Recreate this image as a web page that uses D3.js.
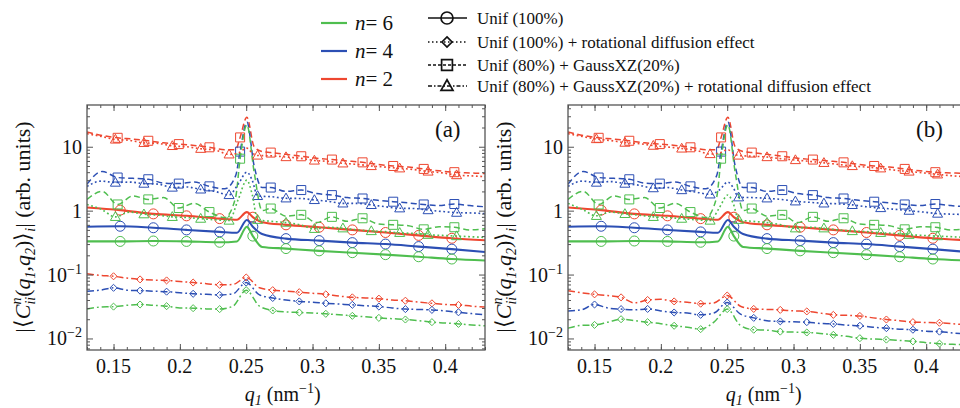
<!DOCTYPE html>
<html>
<head>
<meta charset="utf-8">
<script src="https://cdn.jsdelivr.net/npm/d3@7"></script>
<style>
  body { margin: 0; background: #fff; }
</style>
</head>
<body>
<svg id="chart" width="960" height="408" font-family="'Liberation Serif', 'Times New Roman', Times, serif"></svg>
<script>
// ---- data ----
// Unif (100%) : solid lines, circle markers (shared by both panels)
const qUnif = [0.13, 0.155, 0.18, 0.205, 0.23, 0.243, 0.2505, 0.255, 0.262, 0.28, 0.305, 0.33, 0.355, 0.38, 0.405, 0.43]
const markUnif = [0.155, 0.18, 0.205, 0.23, 0.255, 0.28, 0.305, 0.33, 0.355, 0.38, 0.405]
const unifN2 = [1.12, 1.02, 0.89, 0.83, 0.75, 0.72, 0.95, 0.79, 0.66, 0.60, 0.55, 0.50, 0.455, 0.41, 0.37, 0.345]
const unifN4 = [0.56, 0.57, 0.54, 0.50, 0.465, 0.45, 0.715, 0.56, 0.43, 0.365, 0.34, 0.316, 0.30, 0.274, 0.25, 0.226]
const unifN6 = [0.33, 0.33, 0.335, 0.33, 0.32, 0.33, 0.56, 0.40, 0.27, 0.255, 0.235, 0.22, 0.205, 0.19, 0.175, 0.166]

// Unif (80%) + GaussXZ(20%) : dashed lines, square markers (shared)
const qGauss = [0.13, 0.1415, 0.1531, 0.1646, 0.1762, 0.1877, 0.1992, 0.2108, 0.2223, 0.2338, 0.242, 0.2454, 0.2505, 0.256, 0.262,
  0.2685, 0.28, 0.2915, 0.3031, 0.3146, 0.3262, 0.3377, 0.3492, 0.3608, 0.3723, 0.3838, 0.3954, 0.4069, 0.4185, 0.43]
const markGauss = [0.1531, 0.1762, 0.1992, 0.2223, 0.2454, 0.2685, 0.2915, 0.3146, 0.3377, 0.3608, 0.3838, 0.4069]
const gaussN2 = [17, 15, 13.8, 13.2, 12.4, 11.5, 11.0, 10.5, 9.8, 9.0, 9.0, 14, 29, 10, 8.4,
  8.1, 7.6, 7.1, 6.6, 6.3, 6.0, 5.7, 5.3, 5.0, 4.8, 4.5, 4.2, 4.0, 3.9, 3.8]
const gaussN4 = [2.6, 4.1, 3.3, 3.2, 3.1, 2.7, 2.65, 2.8, 2.4, 2.2, 3.5, 8.4, 24.5, 5, 2.3,
  2.3, 2.0, 2.1, 1.85, 1.75, 1.6, 1.55, 1.45, 1.38, 1.32, 1.25, 1.2, 1.27, 1.2, 1.15]
const gaussN6 = [1.5, 2.0, 1.25, 1.7, 1.5, 1.6, 1.1, 1.3, 0.95, 0.78, 1.6, 6.5, 22, 4, 1.0,
  1.08, 0.82, 0.86, 0.65, 0.8, 0.68, 0.76, 0.62, 0.6, 0.58, 0.51, 0.56, 0.55, 0.5, 0.52]

// Unif (80%) + GaussXZ(20%) + rotational diffusion : dotted lines, triangle markers
const qGaussRot = [0.13, 0.1407, 0.1514, 0.1621, 0.1729, 0.1836, 0.1943, 0.205, 0.2157, 0.2264, 0.2371, 0.244, 0.2505, 0.2545, 0.2586,
  0.2693, 0.28, 0.2907, 0.3014, 0.3121, 0.3229, 0.3336, 0.3443, 0.355, 0.3657, 0.3764, 0.3871, 0.3979, 0.4086, 0.42, 0.43]
const markGaussRot = [0.1514, 0.1729, 0.1943, 0.2157, 0.2371, 0.2586, 0.28, 0.3014, 0.3229, 0.3443, 0.3657, 0.3871, 0.4086]
const gaussRotA_N2 = [16, 14.5, 13, 12.6, 11.5, 11.3, 10.3, 10, 9.3, 8.9, 7.6, 8.0, 9.5, 8.0, 7.3,
  7.2, 6.9, 6.6, 6.1, 5.9, 5.5, 5.3, 5.0, 4.8, 4.6, 4.4, 4.1, 3.9, 3.6, 3.5, 3.4]
const gaussRotA_N4 = [2.4, 2.9, 2.75, 2.8, 2.65, 2.6, 2.3, 2.35, 2.15, 2.0, 1.76, 2.6, 4.0, 3.0, 1.7,
  1.65, 1.56, 1.55, 1.47, 1.4, 1.3, 1.3, 1.23, 1.15, 1.09, 1.08, 1.02, 0.97, 0.93, 0.92, 0.9]
const gaussRotA_N6 = [1.25, 1.05, 0.80, 0.95, 0.88, 0.85, 0.8, 0.78, 0.75, 0.72, 0.70, 1.5, 3.0, 1.8, 0.72,
  0.68, 0.65, 0.6, 0.52, 0.55, 0.53, 0.5, 0.48, 0.47, 0.45, 0.44, 0.42, 0.41, 0.4, 0.39, 0.38]
const gaussRotB_N2 = [16, 14.5, 13.2, 12.5, 11.6, 11.2, 10.4, 9.9, 9.4, 8.8, 7.7, 8.0, 9.0, 7.9, 7.3,
  7.1, 6.9, 6.5, 6.2, 5.9, 5.6, 5.3, 5.0, 4.8, 4.6, 4.3, 4.1, 3.9, 3.7, 3.5, 3.4]
const gaussRotB_N4 = [2.4, 2.9, 2.75, 2.85, 2.65, 2.5, 2.25, 2.3, 2.1, 1.95, 1.8, 2.1, 2.8, 2.3, 1.62,
  1.6, 1.56, 1.5, 1.4, 1.35, 1.3, 1.28, 1.23, 1.15, 1.1, 1.05, 1.0, 0.95, 0.9, 0.88, 0.87]
const gaussRotB_N6 = [1.3, 1.05, 0.83, 0.95, 0.89, 0.85, 0.8, 0.78, 0.75, 0.72, 0.7, 1.1, 1.76, 1.3, 0.72,
  0.68, 0.65, 0.6, 0.53, 0.55, 0.53, 0.5, 0.48, 0.47, 0.45, 0.44, 0.42, 0.41, 0.4, 0.39, 0.38]

// Unif (100%) + rotational diffusion : dash-dot lines, diamond markers
const qUnifRot = [0.13, 0.14, 0.15, 0.16, 0.17, 0.18, 0.19, 0.20, 0.21, 0.22, 0.23, 0.24, 0.25, 0.26, 0.27, 0.28,
  0.29, 0.30, 0.31, 0.32, 0.33, 0.34, 0.35, 0.36, 0.37, 0.38, 0.39, 0.40, 0.41, 0.42, 0.43]
const markUnifRot = [0.15, 0.17, 0.19, 0.21, 0.23, 0.25, 0.27, 0.29, 0.31, 0.33, 0.35, 0.37, 0.39, 0.41]
const unifRotA_N2 = [0.103, 0.097, 0.094, 0.088, 0.084, 0.082, 0.081, 0.078, 0.075, 0.072, 0.069, 0.07, 0.09, 0.062, 0.057, 0.055,
  0.053, 0.051, 0.049, 0.046, 0.044, 0.043, 0.042, 0.040, 0.039, 0.037, 0.0355, 0.034, 0.0335, 0.032, 0.031]
const unifRotA_N4 = [0.055, 0.057, 0.062, 0.057, 0.056, 0.055, 0.054, 0.052, 0.050, 0.049, 0.048, 0.05, 0.075, 0.048, 0.043, 0.040,
  0.038, 0.037, 0.0355, 0.0345, 0.0336, 0.0325, 0.0316, 0.030, 0.0288, 0.0284, 0.028, 0.027, 0.0257, 0.0245, 0.0234]
const unifRotA_N6 = [0.029, 0.031, 0.0315, 0.033, 0.034, 0.033, 0.032, 0.030, 0.0298, 0.029, 0.0288, 0.032, 0.057, 0.032, 0.0274, 0.026,
  0.0255, 0.025, 0.0243, 0.0235, 0.0226, 0.0218, 0.021, 0.0204, 0.0198, 0.019, 0.018, 0.0175, 0.0169, 0.0163, 0.0158]
const unifRotB_N2 = [0.056, 0.052, 0.049, 0.047, 0.044, 0.036, 0.040, 0.041, 0.038, 0.037, 0.035, 0.036, 0.047, 0.032, 0.029, 0.0285,
  0.028, 0.027, 0.0265, 0.025, 0.0234, 0.023, 0.0225, 0.021, 0.0198, 0.019, 0.018, 0.0178, 0.0176, 0.017, 0.0163]
const unifRotB_N4 = [0.027, 0.028, 0.034, 0.030, 0.0288, 0.028, 0.029, 0.027, 0.0255, 0.025, 0.0234, 0.025, 0.0365, 0.024, 0.021, 0.019,
  0.0185, 0.0182, 0.018, 0.0172, 0.0169, 0.0162, 0.0158, 0.015, 0.0145, 0.014, 0.0137, 0.013, 0.0128, 0.0122, 0.0118]
const unifRotB_N6 = [0.0145, 0.016, 0.0163, 0.018, 0.020, 0.019, 0.018, 0.017, 0.0158, 0.015, 0.014, 0.018, 0.0288, 0.016, 0.0137, 0.0135,
  0.0128, 0.0126, 0.0124, 0.012, 0.0114, 0.0108, 0.0101, 0.0098, 0.0096, 0.0093, 0.009, 0.0086, 0.0083, 0.0081, 0.008]

// axis ticks
const xTicks = [0.15, 0.2, 0.25, 0.3, 0.35, 0.4]
const yTicks = [0.01, 0.1, 1, 10]
const yTickLabels = [['10', '\u22122'], ['10', '\u22121'], ['1', null], ['10', null]]

const legendN = [{ n: '6', color: 'green' }, { n: '4', color: 'blue' }, { n: '2', color: 'red' }]
const legendStyles = [
  { label: 'Unif (100%)', style: 'solid', shape: 'circle' },
  { label: 'Unif (100%) + rotational diffusion effect', style: 'dotted', shape: 'diamond' },
  { label: 'Unif (80%) + GaussXZ(20%)', style: 'dashed', shape: 'square' },
  { label: 'Unif (80%) + GaussXZ(20%) + rotational diffusion effect', style: 'dashdot', shape: 'triangle' }
]

// ---- styling ----
const FONT = "'Liberation Serif', 'Times New Roman', Times, serif"
const COLORS = { red: '#ee4730', blue: '#2c4fb4', green: '#4fbe4f' }
const DASH = { solid: null, dashed: '6,3.5', dotted: '1.8,2.6', dashdot: '7,3,1.8,3' }
const SHAPES = {
  square: 'M-4.5,-4.5H4.5V4.5H-4.5Z',
  diamond: 'M0,-4.2L4.2,0L0,4.2L-4.2,0Z',
  triangle: 'M0,-5.2L5,3.6H-5Z'
}

const svg = d3.select('#chart')
const plotTop = 105, plotBottom = 350
const y = d3.scaleLog().domain([0.0066, 45]).range([plotBottom, plotTop])

const panels = [
  { left: 87, right: 485, tag: '(a)', rotGauss: [gaussRotA_N2, gaussRotA_N4, gaussRotA_N6], rotUnif: [unifRotA_N2, unifRotA_N4, unifRotA_N6] },
  { left: 568, right: 966, tag: '(b)', rotGauss: [gaussRotB_N2, gaussRotB_N4, gaussRotB_N6], rotUnif: [unifRotB_N2, unifRotB_N4, unifRotB_N6] }
]

function markerShape(g, shape, cx, cy, color, r, sw) {
  if (shape === 'circle') {
    g.append('circle').attr('cx', cx).attr('cy', cy).attr('r', r)
      .attr('fill', 'none').attr('stroke', color).attr('stroke-width', sw)
  } else {
    const k = r / 5
    g.append('path').attr('d', SHAPES[shape])
      .attr('transform', `translate(${cx},${cy}) scale(${k})`)
      .attr('fill', 'none').attr('stroke', color).attr('stroke-width', sw / k)
  }
}

function addText(parent, size) {
  return parent.append('text').attr('font-family', FONT).attr('font-size', size).attr('fill', '#111')
}

panels.forEach((p, pi) => {
  const x = d3.scaleLinear().domain([0.13, 0.43]).range([p.left, p.right])
  const g = svg.append('g')

  const clipId = 'clip' + pi
  svg.append('clipPath').attr('id', clipId)
    .append('rect').attr('x', p.left).attr('y', plotTop).attr('width', p.right - p.left).attr('height', plotBottom - plotTop)

  const series = [
    { q: qUnif, marks: markUnif, vals: [unifN2, unifN4, unifN6], style: 'solid', width: 2.1, shape: 'circle', r: 5 },
    { q: qGauss, marks: markGauss, vals: [gaussN2, gaussN4, gaussN6], style: 'dashed', width: 1.5, shape: 'square', r: 5 },
    { q: qGaussRot, marks: markGaussRot, vals: p.rotGauss, style: 'dotted', width: 1.6, shape: 'triangle', r: 5 },
    { q: qUnifRot, marks: markUnifRot, vals: p.rotUnif, style: 'dashdot', width: 1.5, shape: 'diamond', r: 4.2 }
  ]
  const colorOrder = ['red', 'blue', 'green']

  const plot = g.append('g').attr('clip-path', `url(#${clipId})`)
  const line = d3.line().x(d => x(d[0])).y(d => y(d[1])).curve(d3.curveMonotoneX)

  series.forEach(s => {
    s.vals.forEach((vals, ci) => {
      const color = COLORS[colorOrder[ci]]
      const pts = s.q.map((q, i) => [q, vals[i]])
      plot.append('path').datum(pts)
        .attr('d', line)
        .attr('fill', 'none')
        .attr('stroke', color)
        .attr('stroke-width', s.width)
        .attr('stroke-dasharray', DASH[s.style])
      const mg = plot.append('g')
      pts.filter(d => s.marks.some(m => Math.abs(m - d[0]) < 1e-6))
        .forEach(d => markerShape(mg, s.shape, x(d[0]), y(d[1]), color, s.r, 1))
    })
  })

  // frame and ticks
  const axisColor = '#555'
  const minorX = d3.range(0.13, 0.4301, 0.01)
  const minorY = []
  ;[0.001, 0.01, 0.1, 1, 10].forEach(d => { for (let k = 2; k <= 9; k++) minorY.push(d * k) })
  const yMinor = minorY.filter(v => v > 0.0066 && v < 45)

  const addAxis = (axis, tf) => {
    const a = g.append('g').attr('transform', tf).call(axis)
    a.select('.domain').remove()
    a.selectAll('line').attr('stroke', axisColor).attr('stroke-width', 1)
    a.selectAll('text').remove()
  }
  addAxis(d3.axisBottom(x).tickValues(xTicks).tickSize(-6), `translate(0,${plotBottom})`)
  addAxis(d3.axisBottom(x).tickValues(minorX).tickSize(-3), `translate(0,${plotBottom})`)
  addAxis(d3.axisTop(x).tickValues(xTicks).tickSize(-6), `translate(0,${plotTop})`)
  addAxis(d3.axisTop(x).tickValues(minorX).tickSize(-3), `translate(0,${plotTop})`)
  addAxis(d3.axisLeft(y).tickValues(yTicks).tickSize(-6), `translate(${p.left},0)`)
  addAxis(d3.axisLeft(y).tickValues(yMinor).tickSize(-3), `translate(${p.left},0)`)
  addAxis(d3.axisRight(y).tickValues(yTicks).tickSize(-6), `translate(${p.right},0)`)
  addAxis(d3.axisRight(y).tickValues(yMinor).tickSize(-3), `translate(${p.right},0)`)

  g.append('rect').attr('x', p.left).attr('y', plotTop)
    .attr('width', p.right - p.left).attr('height', plotBottom - plotTop)
    .attr('fill', 'none').attr('stroke', axisColor).attr('stroke-width', 1.3)

  // tick labels
  xTicks.forEach(t => {
    addText(g, 20).attr('x', x(t)).attr('y', plotBottom + 23)
      .attr('text-anchor', 'middle')
      .text(String(+t.toFixed(2)))
  })
  yTicks.forEach((t, i) => {
    const [base, exp] = yTickLabels[i]
    const tx = addText(g, 20).attr('x', p.left - 5).attr('y', y(t) + 7)
      .attr('text-anchor', 'end')
    tx.append('tspan').text(base)
    if (exp) tx.append('tspan').attr('dy', -8).attr('font-size', 14).text(exp)
  })

  // panel tag
  addText(g, 23).attr('x', p.left + 348).attr('y', 137).text(p.tag)

  // x title
  const xt = addText(g, 20).attr('x', x(0.2775)).attr('y', 401).attr('text-anchor', 'middle')
  xt.append('tspan').attr('font-style', 'italic').text('q')
  xt.append('tspan').attr('font-style', 'italic').attr('font-size', 14).attr('dy', 4).text('1')
  xt.append('tspan').attr('dy', -4).text(' (nm')
  xt.append('tspan').attr('font-size', 14).attr('dy', -8).text('\u22121')
  xt.append('tspan').attr('dy', 8).text(')')

  // y title
  const yt = addText(g, 22)
    .attr('transform', `translate(${p.left - 57},227) rotate(-90)`)
    .attr('text-anchor', 'middle')
  yt.append('tspan').text('|\u27E8')
  yt.append('tspan').attr('font-style', 'italic').text('C')
  yt.append('tspan').attr('font-style', 'italic').attr('font-size', 14).attr('dy', -9).text('n')
  yt.append('tspan').attr('font-style', 'italic').attr('font-size', 14).attr('dx', -7).attr('dy', 14).text('ii')
  yt.append('tspan').attr('dy', -5).text('(')
  yt.append('tspan').attr('font-style', 'italic').text('q')
  yt.append('tspan').attr('font-style', 'italic').attr('font-size', 14).attr('dy', 5).text('1')
  yt.append('tspan').attr('dy', -5).text(',')
  yt.append('tspan').attr('font-style', 'italic').text('q')
  yt.append('tspan').attr('font-style', 'italic').attr('font-size', 14).attr('dy', 5).text('2')
  yt.append('tspan').attr('dy', -5).text(')\u27E9')
  yt.append('tspan').attr('font-style', 'italic').attr('font-size', 14).attr('dy', 5).text('i')
  yt.append('tspan').attr('dy', -5).text('| (arb. units)')
})

// ---- legends ----
const lg = svg.append('g')
const nRows = d3.scaleBand().domain(legendN.map(d => d.n)).range([9, 93])
legendN.forEach(d => {
  const cy = nRows(d.n) + nRows.bandwidth() / 2
  lg.append('line').attr('x1', 321).attr('x2', 347).attr('y1', cy).attr('y2', cy)
    .attr('stroke', COLORS[d.color]).attr('stroke-width', 2.2)
  const t = addText(lg, 21).attr('x', 355).attr('y', cy + 7)
  t.append('tspan').attr('font-style', 'italic').text('n')
  t.append('tspan').text('= ' + d.n)
})

const sRowsY = [18, 42, 65, 86]
legendStyles.forEach((d, i) => {
  const cy = sRowsY[i]
  lg.append('line').attr('x1', 428).attr('x2', 467).attr('y1', cy).attr('y2', cy)
    .attr('stroke', '#111').attr('stroke-width', d.style === 'solid' ? 1.6 : 1.4)
    .attr('stroke-dasharray', d.style === 'solid' ? null : (d.style === 'dotted' ? '1.5,2.5' : (d.style === 'dashed' ? '3,2' : '4,2,1.5,2')))
  markerShape(lg, d.shape, 447, cy, '#111', 6, 1.7)
  addText(lg, 17).attr('x', 477).attr('y', cy + 6).text(d.label)
})
</script>
</body>
</html>
